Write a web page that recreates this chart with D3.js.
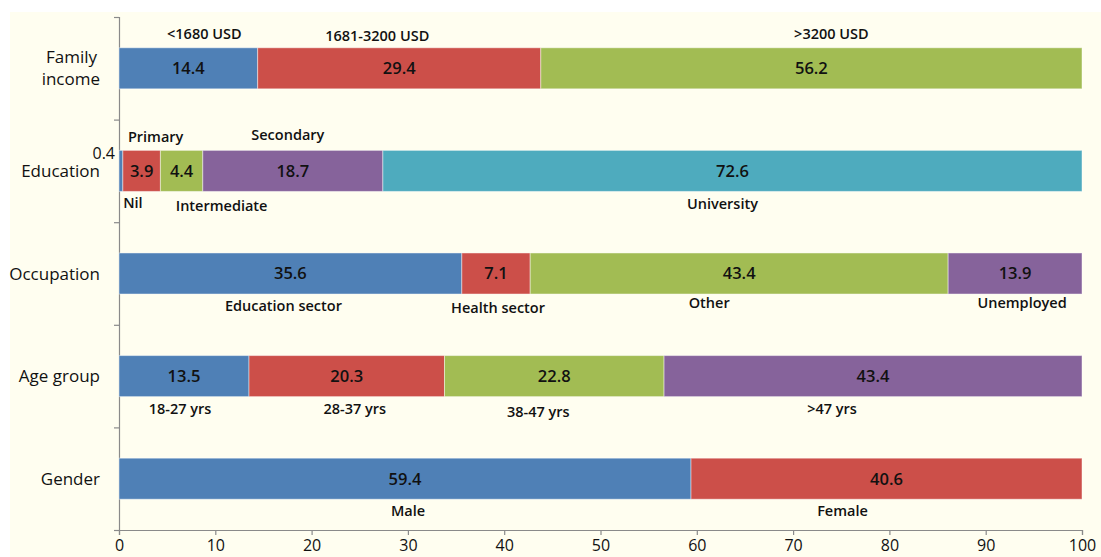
<!DOCTYPE html>
<html>
<head>
<meta charset="utf-8">
<script src="https://cdn.jsdelivr.net/npm/d3@7"></script>
<style>
  html, body { margin: 0; padding: 0; background: #fff; }
  svg { display: block; font-family: "Open Sans", sans-serif; }
</style>
</head>
<body>
<svg id="chart"></svg>
<script>
// Rows, top to bottom
const categories = ['Family income', 'Education', 'Occupation', 'Age group', 'Gender'];

// Percent per segment, left to right
const familyIncome = [14.4, 29.4, 56.2];
const education = [0.4, 3.9, 4.4, 18.7, 72.6];
const occupation = [35.6, 7.1, 43.4, 13.9];
const ageGroup = [13.5, 20.3, 22.8, 43.4];
const gender = [59.4, 40.6];

// Segment names
const familyIncomeLabels = ['<1680 USD', '1681-3200 USD', '>3200 USD'];
const educationLabels = ['Nil', 'Primary', 'Intermediate', 'Secondary', 'University'];
const occupationLabels = ['Education sector', 'Health sector', 'Other', 'Unemployed'];
const ageGroupLabels = ['18-27 yrs', '28-37 yrs', '38-47 yrs', '>47 yrs'];
const genderLabels = ['Male', 'Female'];

const xTicks = [0, 10, 20, 30, 40, 50, 60, 70, 80, 90, 100];

// where each name sits: above/below the bar, plus a small hand nudge [dx, dy] in px
const labelSide = [
  ['above', 'above', 'above'],
  ['below', 'above', 'below', 'above', 'below'],
  ['below', 'below', 'below', 'below'],
  ['below', 'below', 'below', 'below'],
  ['below', 'below']
];
const labelNudge = [
  [[16, 0], [-22, 2], [20, 0]],
  [[12, -1], [14, 0], [40, 2], [-5, -2], [-10, 0]],
  [[-7, 0], [2, 2], [-30, -3], [7, -3]],
  [[-4, 0], [8, 0], [-16, 3], [-41, 0]],
  [[3, 0], [-44, 0]]
];

const rows = [familyIncome, education, occupation, ageGroup, gender];
const rowLabels = [familyIncomeLabels, educationLabels, occupationLabels, ageGroupLabels, genderLabels];
const colors = ['#4f80b6', '#cc4f49', '#a2bc53', '#86639b', '#4eabbe'];

const W = 1101, H = 557;
const margin = { top: 17, right: 19, bottom: 27, left: 119 };
const width = W - margin.left - margin.right;
const height = H - margin.top - margin.bottom;

const svg = d3.select('#chart').attr('width', W).attr('height', H);

// cream chart area
svg.append('rect')
  .attr('x', 10).attr('y', 12)
  .attr('width', W - 10).attr('height', H - 12)
  .attr('fill', '#fffef0');

const g = svg.append('g').attr('transform', `translate(${margin.left},${margin.top})`);

const x = d3.scaleLinear().domain([0, 100]).range([0, width]);
const y = d3.scaleBand().domain(categories).range([0, height]);
const barH = y.bandwidth() * 0.4;

// x axis
const xAxis = g.append('g')
  .attr('transform', `translate(0,${height})`)
  .call(d3.axisBottom(x).tickValues(xTicks).tickSize(5).tickSizeOuter(5).tickPadding(5));
xAxis.selectAll('text').attr('font-size', 16).attr('fill', '#111').attr('font-family', '"Open Sans", sans-serif');

// y axis: ticks at row boundaries, no labels
const yEdges = d3.scaleLinear().domain([0, categories.length]).range([0, height]);
g.append('g')
  .call(d3.axisLeft(yEdges).ticks(categories.length).tickSize(5).tickSizeOuter(5).tickFormat(''));

g.selectAll('.domain, .tick line').attr('stroke', '#8a8a8a').attr('stroke-width', 1.2);

// flatten into segments
const segments = [];
rows.forEach((vals, r) => {
  let acc = 0;
  vals.forEach((v, i) => {
    segments.push({
      cat: categories[r], r, i, v, x0: acc, x1: acc + v,
      name: rowLabels[r][i], side: labelSide[r][i], nudge: labelNudge[r][i]
    });
    acc += v;
  });
});

const yTop = d => y(d.cat) + (y.bandwidth() - barH) / 2;
const tiny = d => d.v < 2;

g.selectAll('rect.seg')
  .data(segments)
  .enter()
  .append('rect')
  .attr('class', 'seg')
  .attr('x', d => x(d.x0))
  .attr('y', yTop)
  .attr('width', d => x(d.x1) - x(d.x0))
  .attr('height', barH)
  .attr('fill', d => colors[d.i])
  .attr('stroke', 'rgba(255,255,255,0.45)')
  .attr('stroke-width', 1);

// value labels (tiny segments go left of the axis)
g.selectAll('text.val')
  .data(segments)
  .enter()
  .append('text')
  .attr('class', 'val')
  .attr('x', d => tiny(d) ? -4 : x((d.x0 + d.x1) / 2))
  .attr('y', d => tiny(d) ? yTop(d) + 3 : yTop(d) + barH / 2)
  .attr('dy', '0.36em')
  .attr('text-anchor', d => tiny(d) ? 'end' : 'middle')
  .attr('font-size', d => tiny(d) ? 16 : 16.5)
  .attr('font-weight', d => tiny(d) ? 400 : 600)
  .attr('fill', '#111')
  .text(d => d.v.toFixed(1));

// segment names
g.selectAll('text.name')
  .data(segments)
  .enter()
  .append('text')
  .attr('class', 'name')
  .attr('x', d => x((d.x0 + d.x1) / 2) + d.nudge[0])
  .attr('y', d => (d.side === 'above' ? yTop(d) - 14 : yTop(d) + barH + 12) + d.nudge[1])
  .attr('dy', '0.36em')
  .attr('text-anchor', 'middle')
  .attr('font-size', 14.5)
  .attr('font-weight', 600)
  .attr('fill', '#111')
  .text(d => d.name);

// category labels
const catText = g.selectAll('text.cat')
  .data(categories)
  .enter()
  .append('text')
  .attr('class', 'cat')
  .attr('x', -20)
  .attr('y', d => y(d) + y.bandwidth() / 2)
  .attr('text-anchor', 'end')
  .attr('font-size', 17)
  .attr('fill', '#111');

catText.each(function(d) {
  const words = d === 'Family income' ? ['Family', 'income'] : [d];
  const t = d3.select(this);
  words.forEach((w, k) => {
    t.append('tspan')
      .attr('x', k === 0 && words.length > 1 ? -22 : -19)
      .attr('dy', k === 0 ? (words.length > 1 ? '-0.3em' : '0.36em') : '1.3em')
      .text(w);
  });
});
</script>
</body>
</html>
